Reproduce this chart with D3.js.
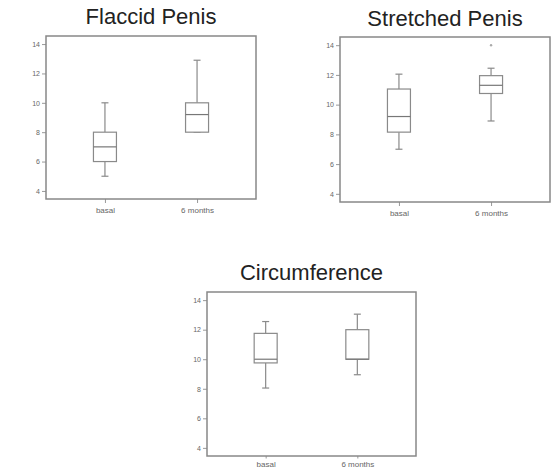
<!DOCTYPE html>
<html>
<head>
<meta charset="utf-8">
<script src="https://cdn.jsdelivr.net/npm/d3@7"></script>
<style>
  body { margin: 0; background: #fff; }
  svg { display: block; }
</style>
</head>
<body>
<svg id="chart"></svg>
<script>
var categories = ["basal", "6 months"];
var yTicks = [4, 6, 8, 10, 12, 14];

// box stats per category: min, q1, median, q3, max
var flaccidMin = [5, 8];
var flaccidQ1 = [6, 8];
var flaccidMed = [7, 9.2];
var flaccidQ3 = [8, 10];
var flaccidMax = [10, 12.9];
var flaccidOut = [[], []];

var stretchedMin = [7, 8.9];
var stretchedQ1 = [8.15, 10.75];
var stretchedMed = [9.2, 11.3];
var stretchedQ3 = [11.05, 11.95];
var stretchedMax = [12.05, 12.45];
var stretchedOut = [[], [14]];

var circMin = [8.05, 8.95];
var circQ1 = [9.75, 10];
var circMed = [10, 10];
var circQ3 = [11.75, 12];
var circMax = [12.55, 13.05];
var circOut = [[], []];

var W = 551, H = 470;
var svg = d3.select("#chart").attr("width", W).attr("height", H);

var panels = [
  {title: "Flaccid Penis", x: 46, y: 36, w: 210, h: 163, ty: 24, lab: 14, tick: 4,
   min: flaccidMin, q1: flaccidQ1, med: flaccidMed, q3: flaccidQ3, max: flaccidMax, out: flaccidOut},
  {title: "Stretched Penis", x: 340, y: 37, w: 210, h: 165, ty: 26, lab: 14, tick: 4,
   min: stretchedMin, q1: stretchedQ1, med: stretchedMed, q3: stretchedQ3, max: stretchedMax, out: stretchedOut},
  {title: "Circumference", x: 207, y: 292, w: 209, h: 164, ty: 280, lab: 10.5, tick: 2.5,
   min: circMin, q1: circQ1, med: circMed, q3: circQ3, max: circMax, out: circOut}
];

panels.forEach(drawPanel);

function drawPanel(p) {
  var g = svg.append("g").attr("transform", "translate(" + p.x + "," + p.y + ")");
  var y = d3.scaleLinear().domain([3.45, 14.55]).range([p.h, 0]);
  var x = d3.scalePoint().domain(categories).range([0, p.w]).padding(0.64);
  var bw = 23, cap = 7;
  var stroke = "#8a8a8a";

  // title
  svg.append("text")
    .attr("x", p.x + p.w / 2)
    .attr("y", p.ty)
    .attr("text-anchor", "middle")
    .attr("font-family", "Liberation Sans, Arial, sans-serif")
    .attr("font-size", 22)
    .attr("fill", "#222")
    .text(p.title);

  // axes
  var ya = g.append("g").call(d3.axisLeft(y).tickValues(yTicks).tickSize(4).tickPadding(2));
  var xa = g.append("g").attr("transform", "translate(0," + p.h + ")")
    .call(d3.axisBottom(x).tickSize(p.tick));
  [ya, xa].forEach(function(a) {
    a.select(".domain").remove();
    a.selectAll("line").attr("stroke", "#999");
    a.selectAll("text").attr("fill", "#666")
      .attr("font-family", "Liberation Sans, Arial, sans-serif");
  });
  ya.selectAll("text").attr("font-size", 7);
  xa.selectAll("text").attr("font-size", 8).attr("dy", null).attr("y", p.lab);

  // frame
  g.append("rect")
    .attr("x", 0).attr("y", 0).attr("width", p.w).attr("height", p.h)
    .attr("fill", "none").attr("stroke", "#888").attr("stroke-width", 1.5);

  categories.forEach(function(c, i) {
    var cx = x(c);
    var b = g.append("g").attr("stroke", stroke).attr("stroke-width", 1.2).attr("fill", "none");
    // whiskers
    b.append("line").attr("x1", cx).attr("x2", cx).attr("y1", y(p.max[i])).attr("y2", y(p.q3[i]));
    b.append("line").attr("x1", cx).attr("x2", cx).attr("y1", y(p.q1[i])).attr("y2", y(p.min[i]));
    b.append("line").attr("x1", cx - cap / 2).attr("x2", cx + cap / 2).attr("y1", y(p.max[i])).attr("y2", y(p.max[i]));
    b.append("line").attr("x1", cx - cap / 2).attr("x2", cx + cap / 2).attr("y1", y(p.min[i])).attr("y2", y(p.min[i]));
    // box
    b.append("rect")
      .attr("x", cx - bw / 2).attr("width", bw)
      .attr("y", y(p.q3[i])).attr("height", y(p.q1[i]) - y(p.q3[i]))
      .attr("fill", "#fff");
    b.append("line").attr("x1", cx - bw / 2).attr("x2", cx + bw / 2)
      .attr("y1", y(p.med[i])).attr("y2", y(p.med[i])).attr("stroke", "#777");
    // outliers
    p.out[i].forEach(function(v) {
      b.append("circle").attr("cx", cx).attr("cy", y(v)).attr("r", 1.2)
        .attr("fill", "#aaa").attr("stroke", "none");
    });
  });
}
</script>
</body>
</html>
